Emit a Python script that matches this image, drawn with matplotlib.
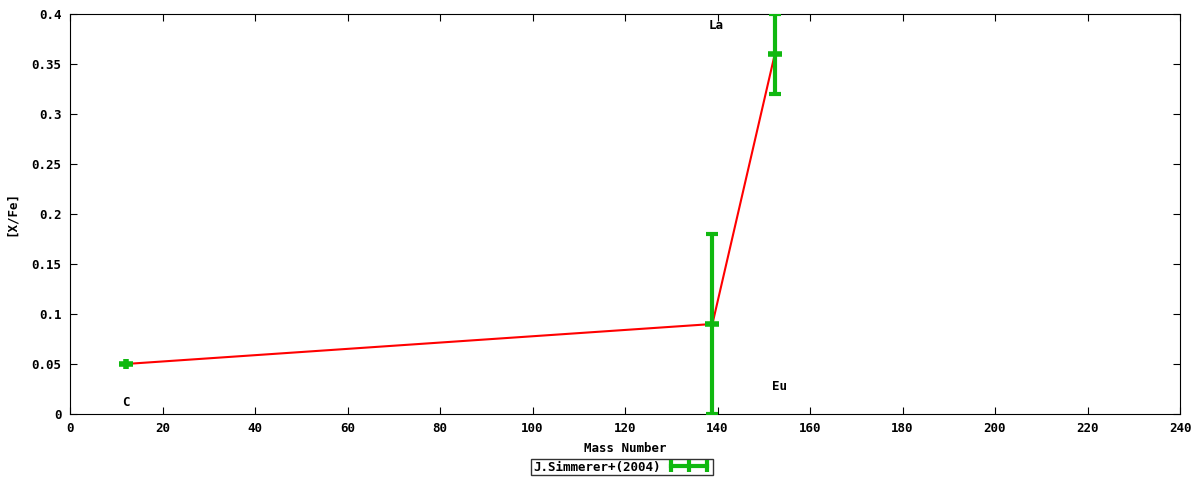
import matplotlib.pyplot as plt
from matplotlib.lines import Line2D

# abundance data
elements = ['C', 'La', 'Eu']
mass = [12.0, 138.9, 152.4]
x_fe = [0.05, 0.09, 0.36]
err = [0.005, 0.09, 0.04]

# where the element labels sit (x, y)
label_x = [12.0, 139.7, 153.5]
label_y = [0.011, 0.388, 0.027]

green = '#10b810'
plt.rcParams['font.family'] = ['DejaVu Sans Mono']
plt.rcParams['font.weight'] = 'bold'

fig = plt.figure(figsize=(12, 4.8), dpi=100)
ax = fig.add_axes([70 / 1200, 66 / 480, 1110 / 1200, 400 / 480])

ax.plot(mass, x_fe, color='red', lw=1.5, zorder=2)
# C has a tiny error bar, drawn without end caps so it reads as a plus
ax.errorbar(mass[:1], x_fe[:1], yerr=err[:1], fmt='none', ecolor=green,
            elinewidth=4, capsize=0, zorder=3)
ax.errorbar(mass[1:], x_fe[1:], yerr=err[1:], fmt='none', ecolor=green,
            elinewidth=3, capsize=4.5, capthick=3, zorder=3)
# gnuplot draws a cap at the point itself too
ax.plot(mass, x_fe, ls='none', marker='_', ms=10, mew=4, color=green, zorder=3)

for name, lx, ly in zip(elements, label_x, label_y):
    ax.text(lx, ly, name, ha='center', va='center', fontsize=9, fontweight='bold')

ax.set_xlim(0, 240)
ax.set_ylim(0, 0.4)
ax.set_xticks(range(0, 241, 20))
ax.set_yticks([i * 0.05 for i in range(9)])
ax.set_yticklabels(['%g' % (i * 0.05) for i in range(9)])
ax.tick_params(direction='in', top=True, right=True, length=5, labelsize=9, pad=6)
ax.set_xlabel('Mass Number', fontsize=9, fontweight='bold', labelpad=5)
ax.set_ylabel('[X/Fe]', fontsize=9, fontweight='bold')
ax.yaxis.set_label_coords(-0.047, 0.5)

handle = Line2D([], [], color=green, lw=3, marker='|', ms=9, mew=3)
fig.legend([handle], ['J.Simmerer+(2004)'], loc='center', bbox_to_anchor=(622 / 1200, 1 - 467 / 480),
           numpoints=3, fontsize=9, frameon=True, fancybox=False, edgecolor='black',
           borderpad=0.15, handlelength=3.5, handletextpad=0.5, borderaxespad=0,
           markerfirst=False)

fig.savefig('out.png', dpi=100)
